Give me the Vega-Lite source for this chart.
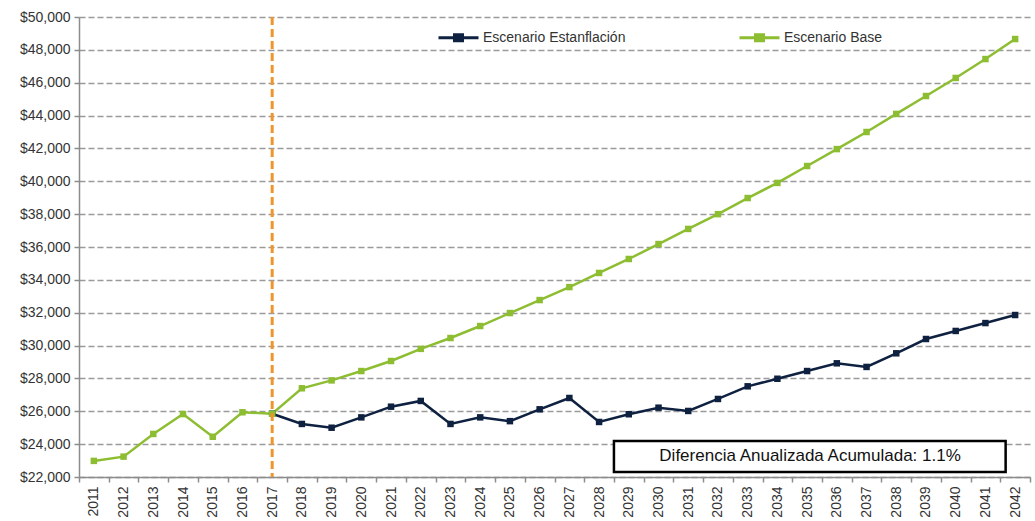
{
  "$schema": "https://vega.github.io/schema/vega-lite/v6.json",
  "width": 951,
  "height": 460,
  "autosize": {"type": "none"},
  "padding": {"left": 79, "top": 17, "right": 5, "bottom": 44},
  "background": "white",
  "config": {
    "font": "Liberation Sans",
    "view": {"stroke": null}
  },
  "datasets": {
    "series": [
      {"year": "2017", "value": 25850, "serie": "Escenario Estanflación"},
      {"year": "2018", "value": 25230, "serie": "Escenario Estanflación"},
      {"year": "2019", "value": 25000, "serie": "Escenario Estanflación"},
      {"year": "2020", "value": 25630, "serie": "Escenario Estanflación"},
      {"year": "2021", "value": 26280, "serie": "Escenario Estanflación"},
      {"year": "2022", "value": 26630, "serie": "Escenario Estanflación"},
      {"year": "2023", "value": 25230, "serie": "Escenario Estanflación"},
      {"year": "2024", "value": 25630, "serie": "Escenario Estanflación"},
      {"year": "2025", "value": 25400, "serie": "Escenario Estanflación"},
      {"year": "2026", "value": 26120, "serie": "Escenario Estanflación"},
      {"year": "2027", "value": 26810, "serie": "Escenario Estanflación"},
      {"year": "2028", "value": 25350, "serie": "Escenario Estanflación"},
      {"year": "2029", "value": 25820, "serie": "Escenario Estanflación"},
      {"year": "2030", "value": 26220, "serie": "Escenario Estanflación"},
      {"year": "2031", "value": 26020, "serie": "Escenario Estanflación"},
      {"year": "2032", "value": 26750, "serie": "Escenario Estanflación"},
      {"year": "2033", "value": 27520, "serie": "Escenario Estanflación"},
      {"year": "2034", "value": 27980, "serie": "Escenario Estanflación"},
      {"year": "2035", "value": 28450, "serie": "Escenario Estanflación"},
      {"year": "2036", "value": 28920, "serie": "Escenario Estanflación"},
      {"year": "2037", "value": 28700, "serie": "Escenario Estanflación"},
      {"year": "2038", "value": 29530, "serie": "Escenario Estanflación"},
      {"year": "2039", "value": 30400, "serie": "Escenario Estanflación"},
      {"year": "2040", "value": 30890, "serie": "Escenario Estanflación"},
      {"year": "2041", "value": 31370, "serie": "Escenario Estanflación"},
      {"year": "2042", "value": 31860, "serie": "Escenario Estanflación"},
      {"year": "2011", "value": 22980, "serie": "Escenario Base"},
      {"year": "2012", "value": 23240, "serie": "Escenario Base"},
      {"year": "2013", "value": 24620, "serie": "Escenario Base"},
      {"year": "2014", "value": 25830, "serie": "Escenario Base"},
      {"year": "2015", "value": 24450, "serie": "Escenario Base"},
      {"year": "2016", "value": 25940, "serie": "Escenario Base"},
      {"year": "2017", "value": 25850, "serie": "Escenario Base"},
      {"year": "2018", "value": 27400, "serie": "Escenario Base"},
      {"year": "2019", "value": 27880, "serie": "Escenario Base"},
      {"year": "2020", "value": 28450, "serie": "Escenario Base"},
      {"year": "2021", "value": 29060, "serie": "Escenario Base"},
      {"year": "2022", "value": 29800, "serie": "Escenario Base"},
      {"year": "2023", "value": 30460, "serie": "Escenario Base"},
      {"year": "2024", "value": 31190, "serie": "Escenario Base"},
      {"year": "2025", "value": 31980, "serie": "Escenario Base"},
      {"year": "2026", "value": 32770, "serie": "Escenario Base"},
      {"year": "2027", "value": 33560, "serie": "Escenario Base"},
      {"year": "2028", "value": 34420, "serie": "Escenario Base"},
      {"year": "2029", "value": 35270, "serie": "Escenario Base"},
      {"year": "2030", "value": 36180, "serie": "Escenario Base"},
      {"year": "2031", "value": 37100, "serie": "Escenario Base"},
      {"year": "2032", "value": 38000, "serie": "Escenario Base"},
      {"year": "2033", "value": 38980, "serie": "Escenario Base"},
      {"year": "2034", "value": 39900, "serie": "Escenario Base"},
      {"year": "2035", "value": 40930, "serie": "Escenario Base"},
      {"year": "2036", "value": 41960, "serie": "Escenario Base"},
      {"year": "2037", "value": 43000, "serie": "Escenario Base"},
      {"year": "2038", "value": 44100, "serie": "Escenario Base"},
      {"year": "2039", "value": 45190, "serie": "Escenario Base"},
      {"year": "2040", "value": 46290, "serie": "Escenario Base"},
      {"year": "2041", "value": 47440, "serie": "Escenario Base"},
      {"year": "2042", "value": 48660, "serie": "Escenario Base"}
    ],
    "marker": [{"year": "2017"}],
    "note": [{"x1": 2028.5, "x2": 2041.68, "y1": 22300, "y2": 24190, "xt": 2035.1, "yt": 23250, "label": "Diferencia Anualizada Acumulada: 1.1%"}]
  },
  "layer": [
    {
      "layer": [
        {
          "data": {"name": "series"},
          "mark": {"type": "line", "strokeWidth": 2.5, "point": {"shape": "square", "size": 42, "filled": true}},
          "encoding": {
            "x": {
              "field": "year", "type": "ordinal", "bandPosition": 0.5,
              "scale": {"type": "band", "paddingInner": 0, "paddingOuter": 0},
              "axis": {
                "title": null, "labelAngle": 270, "labelFontSize": 14, "labelColor": "#333333",
                "tickBand": "extent", "domainColor": "#8c8c8c", "domainWidth": 1.5,
                "tickColor": "#8c8c8c", "tickWidth": 1.5, "tickSize": 5, "labelPadding": 4
              }
            },
            "y": {
              "field": "value", "type": "quantitative",
              "scale": {"domain": [22000, 50000], "nice": false, "zero": false},
              "axis": {
                "title": null, "values": [22000, 24000, 26000, 28000, 30000, 32000, 34000, 36000, 38000, 40000, 42000, 44000, 46000, 48000, 50000],
                "tickCount": 20,
                "format": "$,.0f", "labelFontSize": 14, "labelColor": "#333333", "labelOverlap": false,
                "grid": true, "gridDash": [6, 3], "gridColor": "#9a9a9a", "gridWidth": 1.5,
                "domainColor": "#8c8c8c", "domainWidth": 1.5, "tickColor": "#8c8c8c", "tickWidth": 1.5, "tickSize": 5, "labelPadding": 4
              }
            },
            "color": {
              "field": "serie", "type": "nominal",
              "scale": {"domain": ["Escenario Estanflación", "Escenario Base"], "range": ["#0f2140", "#8dbd30"]},
              "legend": {
                "title": null, "orient": "none", "legendX": 358, "legendY": -1, "direction": "horizontal",
                "columns": 2, "columnPadding": 107,
                "symbolType": "M-1,0H1M-0.2,-0.15H0.2V0.15H-0.2Z", "symbolSize": 1600, "symbolStrokeWidth": 3,
                "labelFontSize": 14, "labelColor": "#333333", "labelOffset": 3
              }
            }
          }
        },
        {
          "data": {"name": "marker"},
          "mark": {"type": "rule", "color": "#f0952b", "strokeWidth": 3, "strokeDash": [8, 4]},
          "encoding": {"x": {"field": "year", "type": "ordinal", "bandPosition": 0.5}}
        }
      ]
    },
    {
      "data": {"name": "note"},
      "layer": [
        {
          "mark": {"type": "rect", "fill": "white", "stroke": "black", "strokeWidth": 2.5},
          "encoding": {
            "x": {"field": "x1", "type": "quantitative", "scale": {"domain": [2010.5, 2042.5], "nice": false, "zero": false}, "axis": null},
            "x2": {"field": "x2"},
            "y": {"field": "y1", "type": "quantitative"},
            "y2": {"field": "y2"}
          }
        },
        {
          "mark": {"type": "text", "fontSize": 17, "color": "#111111", "align": "center", "baseline": "middle"},
          "encoding": {
            "x": {"field": "xt", "type": "quantitative", "scale": {"domain": [2010.5, 2042.5], "nice": false, "zero": false}, "axis": null},
            "y": {"field": "yt", "type": "quantitative"},
            "text": {"field": "label"}
          }
        }
      ]
    }
  ],
  "resolve": {"scale": {"x": "independent"}}
}
